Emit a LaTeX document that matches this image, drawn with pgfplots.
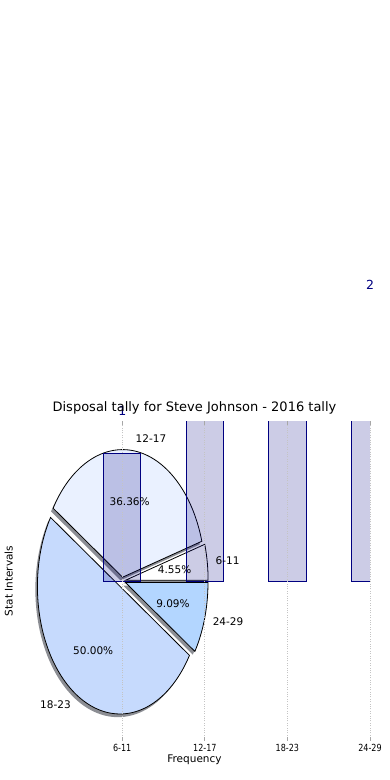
\documentclass[border=0pt]{standalone}
\usepackage{pgfplots}
\pgfplotsset{compat=1.18}
\usepackage{fontspec}
\setmainfont{DejaVu Sans}
\newfontfamily\condfont{DejaVu Sans}[FakeStretch=0.82]
\definecolor{navyc}{RGB}{0,0,128}
\definecolor{wA}{RGB}{255,255,255}
\definecolor{wB}{RGB}{234,241,255}
\definecolor{wC}{RGB}{198,218,253}
\definecolor{wD}{RGB}{179,214,255}
\definecolor{shad}{RGB}{140,142,148}
\definecolor{gridc}{RGB}{196,196,196}
\begin{document}
\begin{tikzpicture}
\path[use as bounding box] (0,0) rectangle (390bp,780bp);
\begin{axis}[
  scale only axis, width=351bp, height=319bp,
  at={(19bp,39.5bp)}, anchor=south west,
  xmin=-1.25, xmax=3, ymin=-1.25, ymax=1.25,
  xtick={0,1,2,3}, xticklabels={6-11,12-17,18-23,24-29},
  ytick=\empty,
  xmajorgrids,
  major grid style={gridc, line width=0.9bp, dash pattern=on 0.9bp off 1.5bp},
  tick align=inside, major tick length=4bp,
  tick style={gridc!85!black, line width=0.8bp},
  axis line style={draw=none},
  axis on top,
  clip mode=individual,
  xticklabel style={font=\condfont\fontsize{9.8bp}{10bp}\selectfont, anchor=base, yshift=-10.5bp, inner sep=0pt},
  title={Disposal tally for Steve Johnson - 2016 tally},
  title style={at={(axis description cs:0.5,1.0135)}, anchor=base, font=\fontsize{13bp}{15bp}\selectfont, inner sep=0pt},
  xlabel={Frequency},
  xlabel style={at={(axis description cs:0.5,-0.0693)}, anchor=base, font=\fontsize{10.5bp}{12bp}\selectfont, inner sep=0pt},
  ylabel={Stat Intervals},
  ylabel style={at={(axis description cs:-0.0182,0.5)}, anchor=base, font=\fontsize{10.5bp}{12bp}\selectfont, inner sep=0pt},
]
% shadows (wedge shapes offset by -0.025,-0.025)
\addplot[draw=none, fill=shad, domain=0:16.3636, samples=30, variable=\t]
  ({0.0146+cos(\t)},{-0.0193+sin(\t)}) -- (axis cs:0.0146,-0.0193) -- cycle;
\addplot[draw=none, fill=shad, domain=16.3636:147.2727, samples=80, variable=\t]
  ({-0.0207+cos(\t)},{0.0047+sin(\t)}) -- (axis cs:-0.0207,0.0047) -- cycle;
\addplot[draw=none, fill=shad, domain=147.2727:327.2727, samples=100, variable=\t]
  ({-0.0520+cos(\t)},{-0.0671+sin(\t)}) -- (axis cs:-0.0520,-0.0671) -- cycle;
\addplot[draw=none, fill=shad, domain=327.2727:360, samples=30, variable=\t]
  ({0.0134+cos(\t)},{-0.0363+sin(\t)}) -- (axis cs:0.0134,-0.0363) -- cycle;
% wedges: 6-11 (1), 12-17 (8), 18-23 (11), 24-29 (2) of 22
\addplot[draw=black, line width=0.8bp, fill=wA, domain=0:16.3636, samples=30, variable=\t]
  ({0.0396+cos(\t)},{0.0057+sin(\t)}) -- (axis cs:0.0396,0.0057) -- cycle;
\addplot[draw=black, line width=0.8bp, fill=wB, domain=16.3636:147.2727, samples=80, variable=\t]
  ({0.0043+cos(\t)},{0.0297+sin(\t)}) -- (axis cs:0.0043,0.0297) -- cycle;
\addplot[draw=black, line width=0.8bp, fill=wC, domain=147.2727:327.2727, samples=100, variable=\t]
  ({-0.0270+cos(\t)},{-0.0421+sin(\t)}) -- (axis cs:-0.0270,-0.0421) -- cycle;
\addplot[draw=black, line width=0.8bp, fill=wD, domain=327.2727:360, samples=30, variable=\t]
  ({0.0384+cos(\t)},{-0.0113+sin(\t)}) -- (axis cs:0.0384,-0.0113) -- cycle;
% bars
\addplot[ybar, bar shift=0pt, bar width=0.45, draw=navyc, line width=0.9bp, fill=navyc, fill opacity=0.2]
  coordinates {(0,1) (1,8) (2,11) (3,2)};
% pie labels
\begin{scope}[every node/.style={font=\fontsize{10.5bp}{12bp}\selectfont, inner sep=0pt}]
\node[anchor=west] at (axis cs:1.1284,0.1622) {6-11};
\node[anchor=west] at (axis cs:0.1608,1.1185) {12-17};
\node[anchor=east] at (axis cs:-0.6217,-0.9674) {18-23};
\node[anchor=west] at (axis cs:1.0938,-0.3212) {24-29};
\node at (axis cs:0.6335,0.0911) {4.55\%};
\node at (axis cs:0.0897,0.6236) {36.36\%};
\node at (axis cs:-0.3514,-0.5468) {50.00\%};
\node at (axis cs:0.6141,-0.1803) {9.09\%};
\end{scope}
% bar value labels
\node[navyc, font=\fontsize{12.5bp}{14bp}\selectfont, inner sep=0pt] at (axis cs:0,1.336) {1};
\node[navyc, font=\fontsize{12.5bp}{14bp}\selectfont, inner sep=0pt] at (axis cs:3,2.32) {2};
\end{axis}
\end{tikzpicture}
\end{document}
